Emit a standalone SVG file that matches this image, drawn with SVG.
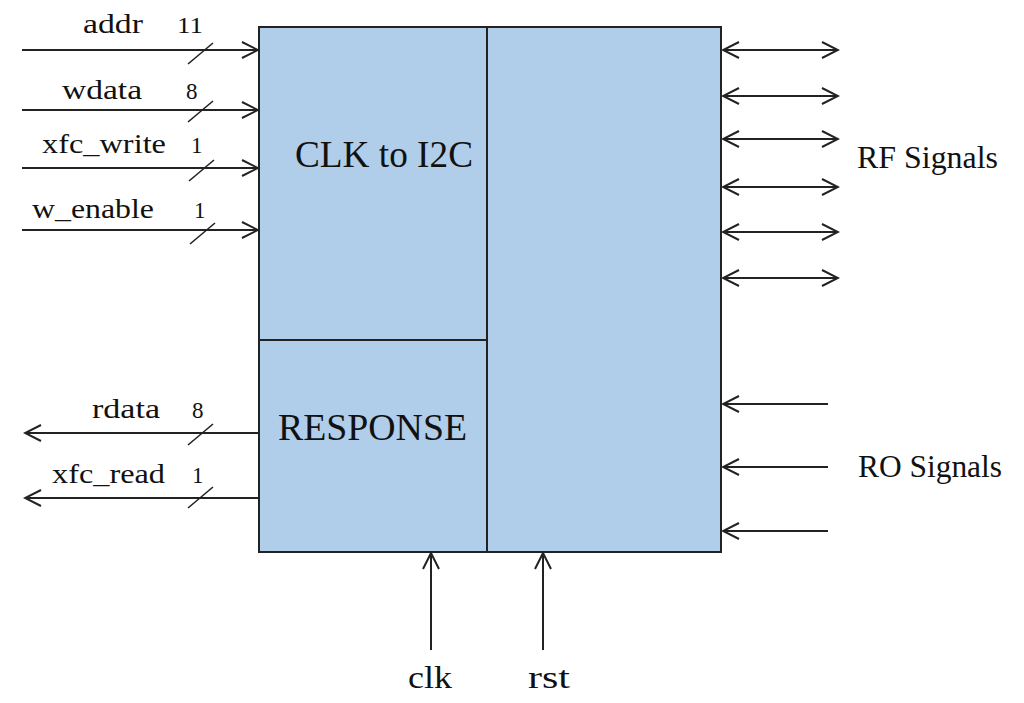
<svg xmlns="http://www.w3.org/2000/svg" width="1024" height="703" viewBox="0 0 1024 703">
  <style>
    .blk { fill: #b0cde9; stroke: #222; stroke-width: 2; }
    .div { stroke: #222; stroke-width: 2; fill: none; }
    .w { stroke: #222; stroke-width: 2; fill: none; }
    .sl { stroke: #222; stroke-width: 1.6; }
    text { font-family: 'Liberation Serif', Tinos, 'Times New Roman', Times, serif; fill: #111; }
    .lbl { font-size: 28px; }
    .num { font-size: 23px; }
    .big { font-size: 37px; }
    .side { font-size: 31px; }
  </style>
  <defs>
    <marker id="arr" markerUnits="userSpaceOnUse" viewBox="0 0 20 20" markerWidth="20" markerHeight="20" refX="18" refY="10" orient="auto-start-reverse">
      <path d="M2,2 L18,10 L2,18" fill="none" stroke="#222" stroke-width="2"/>
    </marker>
  </defs>
  <rect width="1024" height="703" fill="#ffffff"/>

  <g id="block">
    <rect class="blk" x="259" y="27" width="462" height="525"/>
    <line class="div" x1="487" y1="27" x2="487" y2="552"/>
    <line class="div" x1="259" y1="340" x2="487" y2="340"/>
  </g>
  <g id="clk_to_i2c">
    <text class="big" x="295" y="167" textLength="178" lengthAdjust="spacingAndGlyphs">CLK to I2C</text>
  </g>
  <g id="response">
    <text class="big" x="278" y="440" textLength="189" lengthAdjust="spacingAndGlyphs">RESPONSE</text>
  </g>

  <g id="connectors">
    <line class="w" x1="22" y1="50" x2="258" y2="50" marker-end="url(#arr)"/>
    <line class="w" x1="22" y1="110" x2="258" y2="110" marker-end="url(#arr)"/>
    <line class="w" x1="22" y1="168" x2="258" y2="168" marker-end="url(#arr)"/>
    <line class="w" x1="22" y1="230" x2="258" y2="230" marker-end="url(#arr)"/>
    <line class="w" x1="259" y1="433" x2="25" y2="433" marker-end="url(#arr)"/>
    <line class="w" x1="259" y1="498" x2="25" y2="498" marker-end="url(#arr)"/>

    <line class="sl" x1="188" y1="64" x2="213" y2="43"/>
    <line class="sl" x1="188" y1="122" x2="213" y2="101"/>
    <line class="sl" x1="189" y1="181" x2="214" y2="160"/>
    <line class="sl" x1="190" y1="244" x2="215" y2="223"/>
    <line class="sl" x1="188" y1="445" x2="213" y2="424"/>
    <line class="sl" x1="188" y1="508" x2="213" y2="487"/>

    <line class="w" x1="723" y1="50" x2="838" y2="50" marker-start="url(#arr)" marker-end="url(#arr)"/>
    <line class="w" x1="723" y1="96" x2="838" y2="96" marker-start="url(#arr)" marker-end="url(#arr)"/>
    <line class="w" x1="723" y1="139" x2="838" y2="139" marker-start="url(#arr)" marker-end="url(#arr)"/>
    <line class="w" x1="723" y1="187" x2="838" y2="187" marker-start="url(#arr)" marker-end="url(#arr)"/>
    <line class="w" x1="723" y1="232" x2="838" y2="232" marker-start="url(#arr)" marker-end="url(#arr)"/>
    <line class="w" x1="723" y1="278" x2="838" y2="278" marker-start="url(#arr)" marker-end="url(#arr)"/>

    <line class="w" x1="828" y1="404" x2="723" y2="404" marker-end="url(#arr)"/>
    <line class="w" x1="828" y1="467" x2="723" y2="467" marker-end="url(#arr)"/>
    <line class="w" x1="828" y1="531" x2="723" y2="531" marker-end="url(#arr)"/>

    <line class="w" x1="431" y1="650" x2="431" y2="553" marker-end="url(#arr)"/>
    <line class="w" x1="543" y1="650" x2="543" y2="553" marker-end="url(#arr)"/>
  </g>

  <g id="labels">
    <text class="lbl" x="83" y="33" textLength="60" lengthAdjust="spacingAndGlyphs">addr</text>
    <text class="num" x="177" y="33" textLength="26" lengthAdjust="spacingAndGlyphs">11</text>
    <text class="lbl" x="62" y="99" textLength="80" lengthAdjust="spacingAndGlyphs">wdata</text>
    <text class="num" x="186" y="99">8</text>
    <text class="lbl" x="42" y="153" textLength="124" lengthAdjust="spacingAndGlyphs">xfc_write</text>
    <text class="num" x="191" y="153">1</text>
    <text class="lbl" x="32" y="218" textLength="122" lengthAdjust="spacingAndGlyphs">w_enable</text>
    <text class="num" x="194" y="218">1</text>
    <text class="lbl" x="92" y="418" textLength="68" lengthAdjust="spacingAndGlyphs">rdata</text>
    <text class="num" x="192" y="418">8</text>
    <text class="lbl" x="52" y="483" textLength="113" lengthAdjust="spacingAndGlyphs">xfc_read</text>
    <text class="num" x="192" y="483">1</text>
    <text class="side" x="857" y="168" textLength="141" lengthAdjust="spacingAndGlyphs">RF Signals</text>
    <text class="side" x="858" y="477" textLength="144" lengthAdjust="spacingAndGlyphs">RO Signals</text>
    <text class="side" x="408" y="688" textLength="44" lengthAdjust="spacingAndGlyphs">clk</text>
    <text class="side" x="528" y="688" textLength="42" lengthAdjust="spacingAndGlyphs">rst</text>
  </g>
</svg>
